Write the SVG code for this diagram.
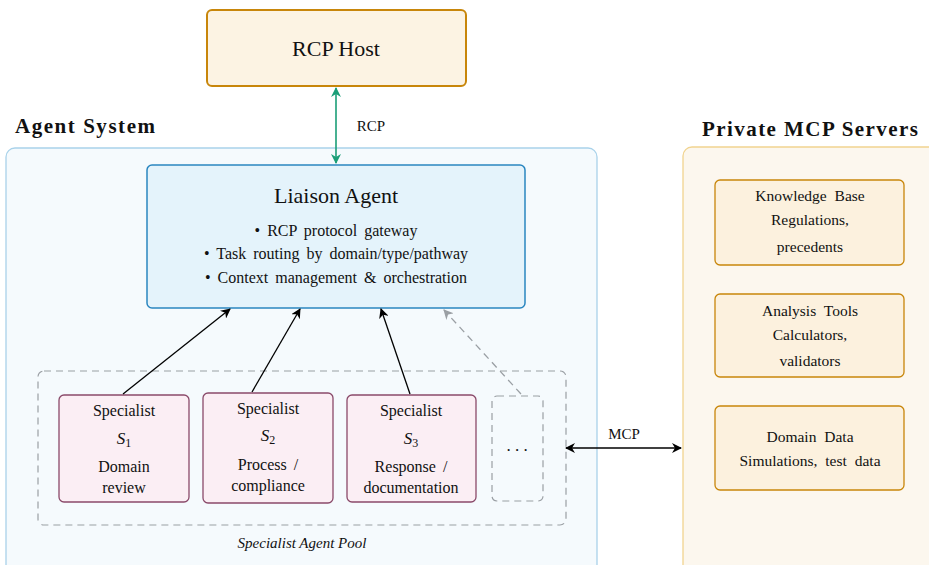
<svg xmlns="http://www.w3.org/2000/svg" width="929" height="565" viewBox="0 0 929 565" font-family="Liberation Serif, DejaVu Serif, serif">
<defs>
<marker id="ab" viewBox="0 0 10 10" refX="9" refY="5" markerWidth="10" markerHeight="10" markerUnits="userSpaceOnUse" orient="auto-start-reverse"><path d="M0,0 L10,5 L0,10 L3,5 Z" fill="#000"/></marker>
<marker id="ag" viewBox="0 0 10 10" refX="9" refY="5" markerWidth="10" markerHeight="10" markerUnits="userSpaceOnUse" orient="auto-start-reverse"><path d="M0,0 L10,5 L0,10 L3,5 Z" fill="#1a9e77"/></marker>
<marker id="agr" viewBox="0 0 10 10" refX="9" refY="5" markerWidth="10" markerHeight="10" markerUnits="userSpaceOnUse" orient="auto-start-reverse"><path d="M0,0 L10,5 L0,10 L3,5 Z" fill="#9a9fa4"/></marker>
</defs>
<style>
text{font-family:"Liberation Serif","DejaVu Serif",serif;fill:#111;text-anchor:middle}
.title{font-size:21px;font-weight:bold;text-anchor:start}
.spec{fill:#fbeef4;stroke:#8a4a6a;stroke-width:1.3}
.srv{fill:#fcf1de;stroke:#c8860a;stroke-width:1.3}
.t16{font-size:16px}
.t15{font-size:15.5px}
.math{font-style:italic;font-size:17px}
.sub{font-style:normal;font-size:12px}
</style>
<rect width="929" height="565" fill="#fff"/>
<g id="agent-system">
<rect x="6" y="148" width="591" height="430" rx="9" fill="#f5fafd" stroke="#a9d2ea" stroke-width="1.3"/>
<text class="title" x="15" y="133" textLength="140">Agent System</text>
</g>
<g id="private-mcp">
<rect x="683" y="147" width="260" height="430" rx="9" fill="#fcf7ee" stroke="#f1d490" stroke-width="1.3"/>
<text class="title" x="702" y="136" textLength="216">Private MCP Servers</text>
</g>
<g id="rcp-host">
<rect x="207" y="10" width="259" height="76" rx="5" fill="#fcf3e3" stroke="#c8860a" stroke-width="2"/>
<text x="336" y="56" font-size="22">RCP Host</text>
</g>
<g id="liaison">
<rect x="147" y="165" width="378" height="143" rx="5" fill="#e4f3fb" stroke="#2a86c0" stroke-width="1.5"/>
<text x="336" y="203" font-size="22">Liaison Agent</text>
<text class="t16" x="336" y="236" word-spacing="3">• RCP protocol gateway</text>
<text class="t16" x="336" y="259" word-spacing="3">• Task routing by domain/type/pathway</text>
<text class="t16" x="336" y="283" word-spacing="3">• Context management &amp; orchestration</text>
</g>
<g id="pool">
<rect x="38" y="371" width="528" height="154" rx="6" fill="none" stroke="#9a9fa4" stroke-width="1.2" stroke-dasharray="7,5"/>
<text x="302" y="548" font-size="15" font-style="italic">Specialist Agent Pool</text>
</g>
<g id="s1">
<rect class="spec" x="59" y="395" width="130" height="107" rx="5"/>
<text class="t16" x="124" y="416">Specialist</text>
<text class="math" x="124" y="444">S<tspan class="sub" dy="3">1</tspan></text>
<text class="t16" x="124" y="472">Domain</text>
<text class="t16" x="124" y="493">review</text>
</g>
<g id="s2">
<rect class="spec" x="203" y="393" width="130" height="110" rx="5"/>
<text class="t16" x="268" y="414">Specialist</text>
<text class="math" x="268" y="441">S<tspan class="sub" dy="3">2</tspan></text>
<text class="t16" x="268" y="470" word-spacing="3">Process /</text>
<text class="t16" x="268" y="491">compliance</text>
</g>
<g id="s3">
<rect class="spec" x="347" y="395" width="129" height="107" rx="5"/>
<text class="t16" x="411" y="416">Specialist</text>
<text class="math" x="411" y="444">S<tspan class="sub" dy="3">3</tspan></text>
<text class="t16" x="411" y="472" word-spacing="3">Response /</text>
<text class="t16" x="411" y="493">documentation</text>
</g>
<g id="more">
<rect x="492" y="396" width="51" height="105" rx="5" fill="none" stroke="#9a9fa4" stroke-width="1.2" stroke-dasharray="7,5"/>
<text x="517" y="451" font-size="17">. . .</text>
</g>
<g id="kb">
<rect class="srv" x="715" y="180" width="189" height="85" rx="5"/>
<text class="t15" x="810" y="201" word-spacing="4">Knowledge Base</text>
<text class="t15" x="810" y="225">Regulations,</text>
<text class="t15" x="810" y="252">precedents</text>
</g>
<g id="tools">
<rect class="srv" x="715" y="294" width="189" height="83" rx="5"/>
<text class="t15" x="810" y="316" word-spacing="4">Analysis Tools</text>
<text class="t15" x="810" y="340">Calculators,</text>
<text class="t15" x="810" y="366">validators</text>
</g>
<g id="data">
<rect class="srv" x="715" y="406" width="189" height="84" rx="5"/>
<text class="t15" x="810" y="442" word-spacing="4">Domain Data</text>
<text class="t15" x="810" y="466" word-spacing="4">Simulations, test data</text>
</g>
<g id="connectors">
<line x1="336" y1="88" x2="336" y2="163" stroke="#1a9e77" stroke-width="1.6" marker-start="url(#ag)" marker-end="url(#ag)"/>
<text x="371" y="131" font-size="15">RCP</text>
<line x1="123" y1="394" x2="230" y2="309" stroke="#000" stroke-width="1.3" marker-end="url(#ab)"/>
<line x1="252" y1="392" x2="300" y2="309" stroke="#000" stroke-width="1.3" marker-end="url(#ab)"/>
<line x1="410" y1="394" x2="381" y2="309" stroke="#000" stroke-width="1.3" marker-end="url(#ab)"/>
<line x1="521" y1="394" x2="444" y2="310" stroke="#9a9fa4" stroke-width="1.3" stroke-dasharray="7,5" marker-end="url(#agr)"/>
<line x1="566" y1="448" x2="681" y2="448" stroke="#000" stroke-width="1.3" marker-start="url(#ab)" marker-end="url(#ab)"/>
<text x="624" y="439" font-size="15">MCP</text>
</g>
</svg>
